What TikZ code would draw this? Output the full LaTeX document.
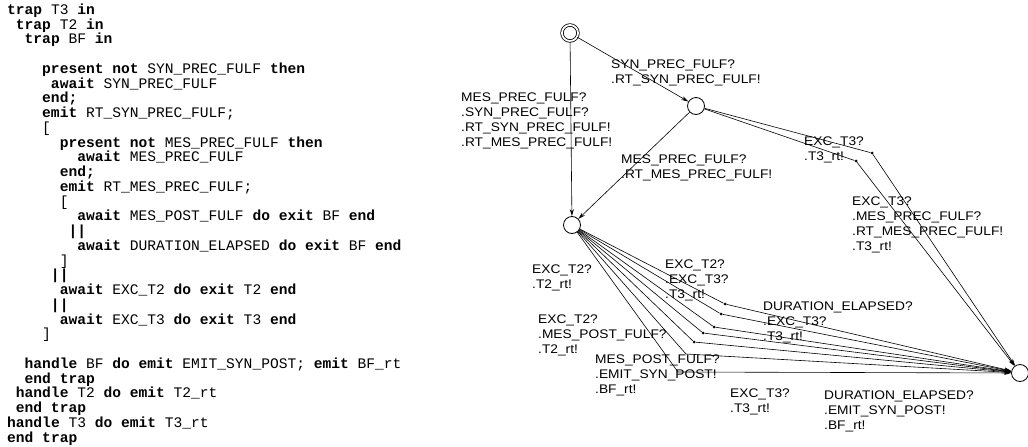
\documentclass[tikz,border=0pt]{standalone}
\usepackage{fontspec}
\newfontfamily\codefont{Liberation Mono}
\newfontfamily\labfont[FakeStretch=1.1]{Liberation Sans}
\usetikzlibrary{arrows.meta}
\newcommand\kw[1]{\textbf{#1}}
\newcommand\indt[1]{\hspace*{#1\dimexpr 8.76pt\relax}}

\begin{document}
\begin{tikzpicture}[x=1pt, y=-1pt,
    state/.style={circle, draw, line width=0.8pt, minimum size=17pt, inner sep=0pt},
    edge/.style={-{Stealth[length=7pt,width=4pt]}, line width=0.6pt},
    bendpt/.style={circle, fill, inner sep=0pt, minimum size=3pt},
    lab/.style={anchor=north west, inner sep=0pt, align=left,
      font=\labfont\fontsize{12.5}{14.7}\selectfont}]
  \useasboundingbox (0,0) rectangle (1028,447);
  % Esterel source
  \node[anchor=north west, inner sep=0pt, align=left,
    font=\codefont\fontsize{14.6}{14.75}\selectfont] (code) at (7,3.5) {%
    \kw{trap} T3 \kw{in}\\
    \indt1\kw{trap} T2 \kw{in}\\
    \indt2\kw{trap} BF \kw{in}\\
    \mbox{}\\
    \indt4\kw{present not} SYN\_PREC\_FULF \kw{then}\\
    \indt5\kw{await} SYN\_PREC\_FULF\\
    \indt4\kw{end;}\\
    \indt4\kw{emit} RT\_SYN\_PREC\_FULF;\\
    \indt4[\\
    \indt6\kw{present not} MES\_PREC\_FULF \kw{then}\\
    \indt8\kw{await} MES\_PREC\_FULF\\
    \indt6\kw{end;}\\
    \indt6\kw{emit} RT\_MES\_PREC\_FULF;\\
    \indt6[\\
    \indt8\kw{await} MES\_POST\_FULF \kw{do exit} BF \kw{end}\\
    \indt7\kw{||}\\
    \indt8\kw{await} DURATION\_ELAPSED \kw{do exit} BF \kw{end}\\
    \indt6]\\
    \indt5\kw{||}\\
    \indt6\kw{await} EXC\_T2 \kw{do exit} T2 \kw{end}\\
    \indt5\kw{||}\\
    \indt6\kw{await} EXC\_T3 \kw{do exit} T3 \kw{end}\\
    \indt4]\\
    \mbox{}\\
    \indt2\kw{handle} BF \kw{do emit} EMIT\_SYN\_POST; \kw{emit} BF\_rt\\
    \indt2\kw{end trap}\\
    \indt1\kw{handle} T2 \kw{do emit} T2\_rt\\
    \indt1\kw{end trap}\\
    \kw{handle} T3 \kw{do emit} T3\_rt\\
    \kw{end trap}};
  % States
  \node[state, double, double distance=1.8pt, minimum size=16pt] (s0) at (570,33) {};
  \node[state] (s1) at (696,106) {};
  \node[state] (s2) at (572,225) {};
  \node[state] (s3) at (1020,373) {};
  % Bend points
  \node[bendpt] (t1) at (872,153) {};
  \node[bendpt] (t2) at (856,161) {};
  \node[bendpt] (f1) at (725,304) {};
  \node[bendpt] (f2) at (721,314) {};
  \node[bendpt] (f3) at (714,327) {};
  \node[bendpt] (f4) at (703,333) {};
  \node[bendpt] (f5) at (694,342) {};
  \coordinate (f6) at (686,354);
  \coordinate (f7) at (678,372);
  % Transitions
  \draw[edge] (s0) -- (s2);
  \draw[edge] (s0) -- (s1);
  \draw[edge] (s1) -- (s2);
  \draw[edge] (s1) -- (t1) -- (s3);
  \draw[edge] (s1) -- (t2) -- (s3);
  \foreach \i in {1,...,7}
    \draw[edge] (s2) -- (f\i) -- (s3);
  % Transition labels
  \node[lab] (l02) at (461,93) {MES\_PREC\_FULF?\\.SYN\_PREC\_FULF?\\.RT\_SYN\_PREC\_FULF!\\.RT\_MES\_PREC\_FULF!};
  \node[lab] (l01) at (611,60) {SYN\_PREC\_FULF?\\.RT\_SYN\_PREC\_FULF!};
  \node[lab] (l12) at (621,155) {MES\_PREC\_FULF?\\.RT\_MES\_PREC\_FULF!};
  \node[lab] (l13a) at (804,137) {EXC\_T3?\\.T3\_rt!};
  \node[lab] (l13b) at (852,197) {EXC\_T3?\\.MES\_PREC\_FULF?\\.RT\_MES\_PREC\_FULF!\\.T3\_rt!};
  \node[lab] (l23a) at (532,265) {EXC\_T2?\\.T2\_rt!};
  \node[lab] (l23b) at (665,260) {EXC\_T2?\\.EXC\_T3?\\.T3\_rt!};
  \node[lab] (l23c) at (538,315) {EXC\_T2?\\.MES\_POST\_FULF?\\.T2\_rt!};
  \node[lab] (l23d) at (763,302) {DURATION\_ELAPSED?\\.EXC\_T3?\\.T3\_rt!};
  \node[lab] (l23e) at (595,355) {MES\_POST\_FULF?\\.EMIT\_SYN\_POST!\\.BF\_rt!};
  \node[lab] (l23f) at (730,389) {EXC\_T3?\\.T3\_rt!};
  \node[lab] (l23g) at (824,391) {DURATION\_ELAPSED?\\.EMIT\_SYN\_POST!\\.BF\_rt!};
\end{tikzpicture}
\end{document}
